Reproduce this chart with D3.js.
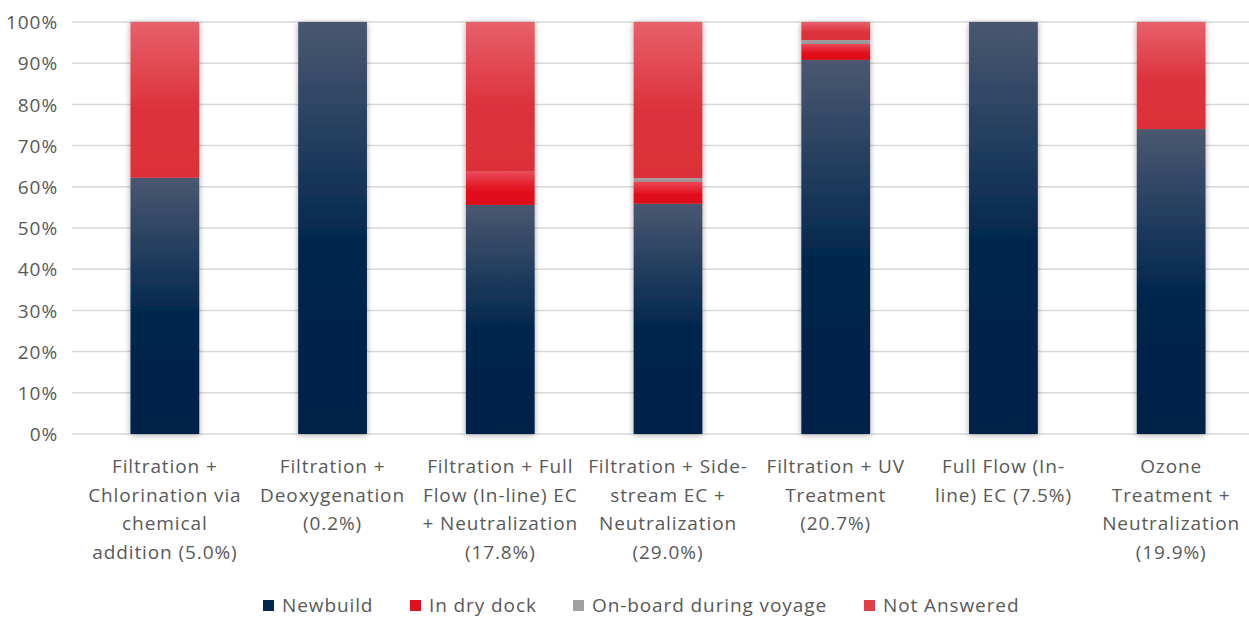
<!DOCTYPE html>
<html><head><meta charset="utf-8">
<script src="https://cdn.jsdelivr.net/npm/d3@7"></script>
<style>html,body{margin:0;padding:0;background:#fff;overflow:hidden}</style>
</head><body>
<svg id="c" width="1249" height="619"></svg>
<script>
const categories = [
  ["Filtration +","Chlorination via","chemical","addition (5.0%)"],
  ["Filtration +","Deoxygenation","(0.2%)"],
  ["Filtration + Full","Flow (In-line) EC","+ Neutralization","(17.8%)"],
  ["Filtration + Side-","stream EC +","Neutralization","(29.0%)"],
  ["Filtration + UV","Treatment","(20.7%)"],
  ["Full Flow (In-","line) EC (7.5%)"],
  ["Ozone","Treatment +","Neutralization","(19.9%)"]
];
const seriesNames = ["Newbuild","In dry dock","On-board during voyage","Not Answered"];
const newbuild   = [62.2, 100, 55.6, 55.9, 90.8, 100, 74.0];
const inDryDock  = [0, 0, 8.1, 5.4, 3.9, 0, 0];
const onBoard    = [0, 0, 0, 0.8, 0.9, 0, 0];
const notAnswered= [37.8, 0, 36.3, 37.9, 4.4, 0, 26.0];
const yTicks = [0,10,20,30,40,50,60,70,80,90,100];

const svg = d3.select("#c");
const font = "'Open Sans', sans-serif";
const textCol = "#595959";
const fs = 19;
const ls = "0.9px";

const x = d3.scaleBand().domain(d3.range(categories.length)).range([81, 1255]).paddingInner(0.59).paddingOuter(0.295);
const y = d3.scaleLinear().domain([0,100]).range([434, 22]);

const defs = svg.append("defs");
function grad(id, top, mid, bottom, midOff){
  const g = defs.append("linearGradient").attr("id", id).attr("x1",0).attr("y1",0).attr("x2",0).attr("y2",1);
  g.append("stop").attr("offset","0%").attr("stop-color",top);
  g.append("stop").attr("offset",midOff).attr("stop-color",mid);
  g.append("stop").attr("offset","100%").attr("stop-color",bottom);
}
grad("g0","#4a5870","#00264d","#00214a","55%");
grad("g1","#ea4a58","#e3111e","#dc0a18","55%");
grad("g2","#a6a6a6","#9a9a9a","#8f8f8f","50%");
grad("g3","#e8606a","#dc333c","#dc2f38","55%");
const legendCols = ["#00264d","#e3111e","#a0a0a0","#e0404a"];

const f = defs.append("filter").attr("id","sh").attr("x","-30%").attr("y","-10%").attr("width","160%").attr("height","120%");
f.append("feGaussianBlur").attr("in","SourceAlpha").attr("stdDeviation",3).attr("result","b");
f.append("feOffset").attr("in","b").attr("dx",0).attr("dy",1).attr("result","o");
f.append("feComponentTransfer").attr("in","o").attr("result","o2").append("feFuncA").attr("type","linear").attr("slope",0.35);
const fm = f.append("feMerge");
fm.append("feMergeNode").attr("in","o2");
fm.append("feMergeNode").attr("in","SourceGraphic");

// gridlines
svg.append("g").selectAll("line").data(yTicks).join("line")
  .attr("x1",72).attr("x2",1249).attr("y1",d=>y(d)).attr("y2",d=>y(d))
  .attr("stroke","#d9d9d9").attr("stroke-width",1.5);

// y axis labels
const yAxis = d3.axisLeft(y).tickValues(yTicks).tickFormat(d=>d+"%").tickSize(0).tickPadding(0);
const ya = svg.append("g").attr("transform","translate(58,0)").call(yAxis);
ya.select(".domain").remove();
ya.selectAll("text").attr("font-family",font).attr("font-size",fs).attr("letter-spacing",ls).attr("fill",textCol).attr("dy","0.35em");

// stack
const rows = categories.map((c,i)=>({i, s0:newbuild[i], s1:inDryDock[i], s2:onBoard[i], s3:notAnswered[i]}));
const stack = d3.stack().keys(["s0","s1","s2","s3"])(rows);
const barG = svg.append("g");
rows.forEach((r,i)=>{
  const g = barG.append("g").attr("filter","url(#sh)");
  stack.forEach((layer,k)=>{
    const d = layer[i];
    if (d[1]-d[0] <= 0) return;
    g.append("rect").attr("x",x(i)).attr("width",x.bandwidth())
      .attr("y",y(d[1])).attr("height",y(d[0])-y(d[1]))
      .attr("fill",`url(#g${k})`);
  });
});

// x labels
const xl = svg.append("g");
categories.forEach((lines,i)=>{
  const cx = x(i)+x.bandwidth()/2;
  const t = xl.append("text").attr("x",cx).attr("y",473)
    .attr("text-anchor","middle").attr("font-family",font).attr("font-size",fs).attr("letter-spacing",ls).attr("fill",textCol);
  lines.forEach((l,j)=>t.append("tspan").attr("x",cx).attr("y",473+j*28.6).text(l));
});

// legend
const legX = [263,410,573,864];
const lg = svg.append("g");
seriesNames.forEach((n,k)=>{
  lg.append("rect").attr("x",legX[k]).attr("y",600).attr("width",11).attr("height",11).attr("fill",legendCols[k]);
  lg.append("text").attr("x",legX[k]+19).attr("y",612).attr("font-family",font).attr("font-size",fs).attr("letter-spacing",ls).attr("fill",textCol).text(n);
});
</script>
</body></html>
